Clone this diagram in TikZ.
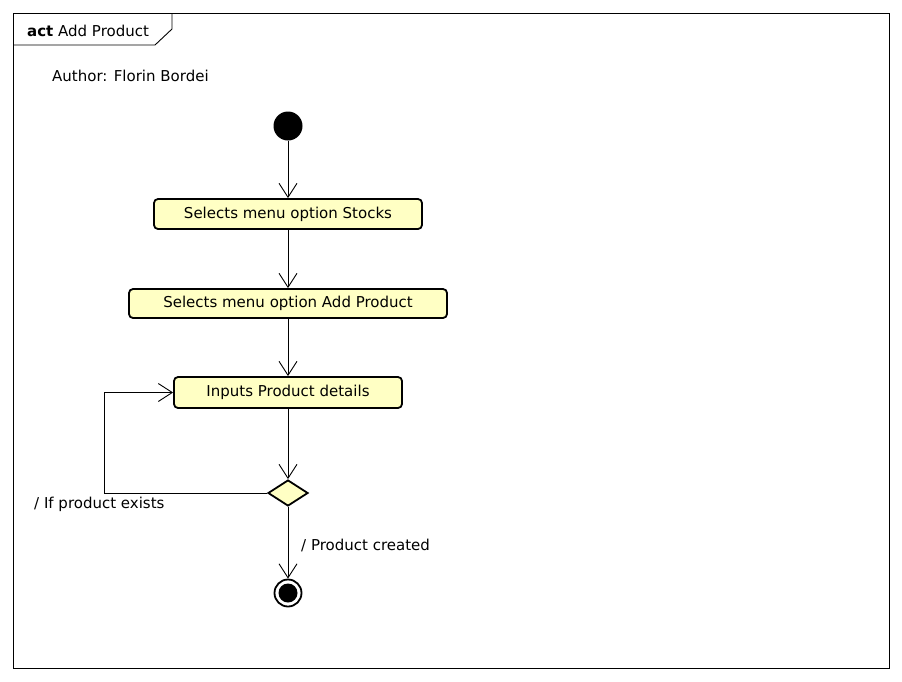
\documentclass[tikz,border=0pt]{standalone}
\usepackage{fontspec}
\setmainfont{DejaVu Sans}
\usetikzlibrary{arrows.meta,shapes.geometric}
\definecolor{actfill}{HTML}{FFFFC4}
\tikzset{
  actbox/.style={draw, line width=1.8pt, rounded corners=4pt, fill=actfill, inner sep=0pt, font=\fontsize{15}{17}\selectfont},
  flow/.style={line width=0.9pt, -{Straight Barb[length=14pt,width=18pt,line width=0.9pt]}},
  lbl/.style={font=\fontsize{15}{17}\selectfont, inner sep=0pt},
}
\begin{document}
\begin{tikzpicture}[x=1pt,y=-1pt]
\useasboundingbox (0,0) rectangle (902,681);
\fill[white] (0,0) rectangle (902,681);
% frame
\draw[line width=0.9pt] (13,13) rectangle (889,668);
\draw[line width=0.9pt] (13,45) -- (155,45) -- (172,29) -- (172,13);
\node[lbl, anchor=west] (title) at (27,31) {\textbf{act} Add Product};
\node[lbl, anchor=west] (author) at (52,76) {Author: Florin Bordei};
% start
\node[circle, fill=black, minimum size=29pt, inner sep=0pt] (start) at (288,126) {};
% actions
\node[actbox, minimum width=268pt, minimum height=30pt] (a1) at (288,214) {Selects menu option Stocks};
\node[actbox, minimum width=318pt, minimum height=29pt] (a2) at (288,303.5) {Selects menu option Add Product};
\node[actbox, minimum width=228pt, minimum height=31pt] (a3) at (288,392.5) {Inputs Product details};
% decision
\node[diamond, draw, line width=1.8pt, fill=actfill, minimum width=40pt, minimum height=26pt, inner sep=0pt, aspect=1.6] (dec) at (288,493) {};
% end
\node[circle, draw, line width=1.8pt, minimum size=27pt, inner sep=0pt] (end) at (288,593) {};
\node[circle, fill=black, minimum size=19pt, inner sep=0pt] at (end.center) {};
% flows
\draw[flow] (start) -- (a1);
\draw[flow] (a1) -- (a2);
\draw[flow] (a2) -- (a3);
\draw[flow] (a3) -- (dec);
\draw[flow] (dec) -- (end);
\coordinate (lb) at (104,493);
\coordinate (lt) at (104,392.5);
\draw[flow] (dec.west) -- (lb) -- (lt) -- (a3.west);
\node[lbl, anchor=west] (g1) at (34,504) {/ If product exists};
\node[lbl, anchor=west] (g2) at (301,545) {/ Product created};
\end{tikzpicture}
\end{document}
